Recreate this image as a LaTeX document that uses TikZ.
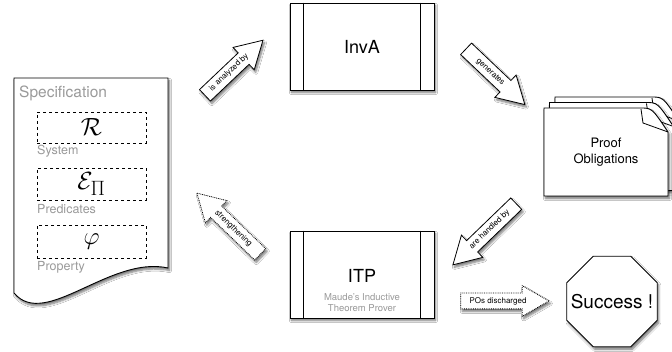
\documentclass[tikz,border=0pt]{standalone}
\usepackage[no-math]{fontspec}
\setmainfont{TeX Gyre Heros}
\usetikzlibrary{shapes.arrows,shapes.geometric,shadows.blur}
\definecolor{lblgray}{HTML}{9A9A9A}
\begin{document}
\begin{tikzpicture}[x=1pt,y=1pt,
  shade/.style={blur shadow={shadow xshift=1.5pt,shadow yshift=-2.5pt,shadow blur steps=6,shadow opacity=55}},
  outline/.style={draw=black,line width=0.9pt,fill=white},
  procbox/.style={outline,shade,minimum width=144pt,minimum height=87pt,inner sep=0pt},
  dashbox/.style={draw=black,dashed,line width=0.6pt,minimum width=109pt,inner sep=0pt},
  speclabel/.style={text=lblgray,font=\fontsize{12.5}{14}\selectfont,anchor=base west,inner sep=0pt},
  blockarrow/.style={single arrow,outline,line width=0.8pt,shade,font=\fontsize{8}{9}\selectfont,
    text height=6pt,text depth=1.8pt,inner sep=3.6pt,single arrow head extend=7.5pt,
    single arrow tip angle=60,minimum height=#1},
  dotarrow/.style={blockarrow=#1,densely dotted}
]
\useasboundingbox (0,0) rectangle (672,352);
\fill[white] (0,0) rectangle (672,352);

% Specification document
\draw[outline,shade] (14,274) -- (168,274) -- (168,84)
  .. controls (110,97) and (45,22) .. (14,59) -- cycle;
\node[text=lblgray,font=\fontsize{15.5}{17}\selectfont,anchor=base west,inner sep=0pt] (spec) at (19,254) {Specification};
\node[dashbox,minimum height=31pt] (rbox) at (91.5,224.5) {\Huge$\mathcal{R}$};
\node[speclabel] (sys) at (37,197) {System};
\node[dashbox,minimum height=32pt] (ebox) at (91.5,168) {\Huge$\mathcal{E}_{\Pi}$};
\node[speclabel] (pred) at (37,138.5) {Predicates};
\node[dashbox,minimum height=33pt] (pbox) at (91.5,110.5) {\Huge$\varphi$};
\node[speclabel] (prop) at (37,81.5) {Property};

% InvA
\node[procbox,font=\fontsize{18}{20}\selectfont] (inva) at (362,305.5) {InvA};
\draw[line width=0.8pt] ([xshift=14pt]inva.north west) -- ([xshift=14pt]inva.south west);
\draw[line width=0.8pt] ([xshift=-14pt]inva.north east) -- ([xshift=-14pt]inva.south east);

% ITP
\node[procbox] (itp) at (362,77.5) {};
\draw[line width=0.8pt] ([xshift=14pt]itp.north west) -- ([xshift=14pt]itp.south west);
\draw[line width=0.8pt] ([xshift=-14pt]itp.north east) -- ([xshift=-14pt]itp.south east);
\node[font=\fontsize{18}{20}\selectfont,inner sep=0pt] (itpt) at (362,76) {ITP};
\node[text=lblgray,font=\fontsize{9.5}{11}\selectfont,align=center,inner sep=0pt] (itps) at (362,49.5) {Maude's Inductive\\Theorem Prover};

% Proof obligations stack
\begin{scope}
\clip (0,0) rectangle (672,352);
\foreach \d in {11,5.5,0}{
  \draw[outline,shade] (544+\d,156+\d) -- (544+\d,244+\d) -- (640+\d,244+\d)
    .. controls (652+\d,244+\d) .. (668+\d,220+\d) -- (668+\d,156+\d) -- cycle;
  \draw[line width=0.8pt] (641+\d,243+\d) -- (643+\d,229+\d) -- (668+\d,220+\d);
}
\end{scope}
\node[font=\fontsize{13}{15.5}\selectfont,align=center] (po) at (606,200) {Proof\\Obligations};

% Success
\node[regular polygon,regular polygon sides=8,minimum size=98pt,inner sep=0pt,outline,shade] (succ) at (612,50.5) {};
\node[font=\fontsize{19}{21}\selectfont,inner sep=0pt] (succt) at (succ.center) {Success !};

% Block arrows
\node[blockarrow=80pt,rotate=43.5] (a1) at (229,279.5) {is analyzed by};
\node[blockarrow=81pt,rotate=-43.5] (a2) at (490.5,280) {generates};
\node[blockarrow=88pt,rotate=44,shape border rotate=180] (a3) at (489.5,122.5) {are handled by};
\node[dotarrow=88pt,rotate=-44,shape border rotate=180] (a4) at (233.5,123.5) {strengthening};
\node[dotarrow=88pt] (a5) at (498,51) {POs discharged};
\end{tikzpicture}
\end{document}
